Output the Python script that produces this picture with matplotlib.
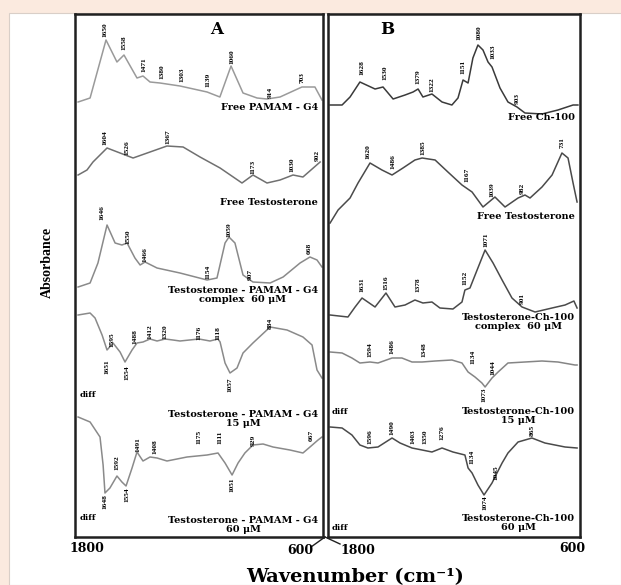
import numpy as np
import matplotlib
matplotlib.use('Agg')
import matplotlib.pyplot as plt
from matplotlib.patches import Rectangle
from matplotlib.lines import Line2D

W, H = 621, 585

# ---- panel A : PAMAM-G4 ----
a1_wn = [1785, 1727, 1650, 1597, 1563, 1500, 1471, 1437, 1389, 1292, 1161, 1099,
         1045, 987, 919, 871, 808, 702, 639, 605]
a1_ab = [435, 439, 497, 475, 482, 459, 461, 455, 454, 451, 445, 440,
         471, 444, 439, 438, 440, 450, 450, 437]

a2_wn = [1785, 1742, 1713, 1645, 1582, 1519, 1437, 1355, 1277, 1195, 1098, 992,
         939, 871, 808, 745, 697, 614]
a2_ab = [362, 367, 375, 389, 384, 379, 385, 391, 390, 380, 369, 354,
         362, 354, 357, 362, 360, 375]

a3_wn = [1785, 1727, 1689, 1645, 1606, 1573, 1548, 1510, 1485, 1461, 1403, 1292,
         1161, 1113, 1074, 1055, 1026, 987, 939, 856, 793, 711, 663, 629, 605]
a3_ab = [250, 254, 274, 312, 294, 292, 294, 279, 272, 275, 269, 264,
         257, 259, 294, 300, 294, 262, 255, 254, 260, 274, 280, 277, 270]

a4_wn = [1785, 1727, 1703, 1669, 1645, 1616, 1582, 1558, 1524, 1500, 1471, 1437,
         1403, 1364, 1326, 1292, 1200, 1147, 1108, 1098, 1074, 1050, 1016, 987,
         939, 856, 774, 697, 653, 629, 605]
a4_ab = [222, 224, 219, 202, 187, 194, 185, 175, 187, 194, 195, 198,
         196, 198, 197, 196, 198, 196, 198, 195, 174, 164, 169, 184,
         194, 210, 207, 200, 192, 167, 159]

a5_wn = [1785, 1727, 1679, 1664, 1655, 1631, 1597, 1573, 1553, 1524, 1500, 1471,
         1437, 1403, 1355, 1258, 1161, 1108, 1074, 1040, 1011, 978, 939, 890,
         842, 760, 697, 663, 624, 605]
a5_ab = [120, 115, 100, 72, 44, 49, 61, 55, 51, 69, 85, 76,
         80, 79, 76, 80, 82, 84, 74, 62, 74, 84, 92, 93,
         90, 87, 84, 90, 97, 100]

# ---- panel B : Ch-100 ----
b1_wn = [1790, 1733, 1695, 1648, 1576, 1538, 1490, 1433, 1395, 1371, 1348, 1305,
         1257, 1210, 1181, 1157, 1133, 1110, 1086, 1062, 1038, 1019, 981, 943,
         900, 862, 781, 705, 633, 610]
b1_ab = [432, 432, 440, 455, 448, 450, 438, 442, 445, 448, 440, 443,
         435, 432, 439, 457, 454, 479, 492, 487, 475, 470, 449, 435,
         430, 424, 423, 427, 432, 432]

b2_wn = [1790, 1752, 1695, 1657, 1600, 1543, 1495, 1443, 1386, 1352, 1290, 1229,
         1162, 1114, 1062, 1005, 957, 895, 862, 838, 781, 733, 686, 657, 633, 614]
b2_ab = [314, 327, 339, 354, 374, 367, 362, 369, 377, 379, 377, 365,
         352, 345, 330, 340, 330, 339, 342, 339, 350, 362, 384, 379, 354, 335]

b3_wn = [1790, 1705, 1671, 1638, 1576, 1524, 1481, 1433, 1386, 1348, 1305, 1267,
         1205, 1162, 1148, 1124, 1090, 1052, 1014, 971, 924, 876, 814, 733,
         671, 629, 614]
b3_ab = [222, 220, 230, 239, 230, 244, 230, 232, 237, 234, 235, 229,
         228, 235, 247, 249, 267, 287, 274, 257, 239, 230, 225, 229,
         232, 236, 229]

b4_wn = [1790, 1733, 1686, 1648, 1600, 1562, 1495, 1448, 1400, 1352, 1290, 1210,
         1162, 1133, 1100, 1067, 1052, 1019, 990, 943, 862, 781, 705, 624, 614]
b4_ab = [185, 184, 179, 174, 175, 174, 179, 179, 175, 175, 176, 177,
         174, 165, 160, 154, 150, 159, 165, 174, 175, 176, 175, 172, 172]

b5_wn = [1790, 1733, 1686, 1648, 1610, 1562, 1495, 1457, 1400, 1352, 1305, 1257,
         1205, 1148, 1133, 1114, 1086, 1057, 1019, 1005, 971, 943, 895, 829,
         767, 671, 614]
b5_ab = [110, 109, 102, 92, 89, 90, 99, 94, 89, 87, 85, 89,
         85, 82, 69, 64, 52, 42, 54, 60, 74, 84, 95, 99,
         94, 90, 89]

# peak labels: (text, wavenumber where drawn, height)
a_peaks = [
    ('1650', 1655, 507), ('1558', 1563, 494), ('1471', 1466, 472), ('1380', 1379, 465),
    ('1303', 1282, 462), ('1139', 1156, 457), ('1060', 1040, 480), ('914', 856, 445),
    ('703', 702, 459),
    ('1604', 1655, 399), ('1526', 1548, 389), ('1367', 1350, 400), ('1173', 939, 370),
    ('1030', 750, 372), ('902', 629, 382),
    ('1646', 1669, 324), ('1550', 1543, 300), ('1466', 1461, 282), ('1154', 1156, 265),
    ('1059', 1055, 307), ('907', 953, 262), ('668', 668, 289),
    ('1651', 1645, 170), ('1595', 1621, 197), ('1554', 1548, 164), ('1488', 1510, 200),
    ('1412', 1437, 205), ('1320', 1364, 205), ('1176', 1200, 204), ('1118', 1108, 204),
    ('884', 856, 214), ('1057', 1050, 152),
    ('1648', 1655, 35), ('1592', 1597, 74), ('1554', 1548, 42), ('1491', 1495, 92),
    ('1408', 1413, 90), ('1175', 1200, 100), ('1111', 1098, 100), ('929', 939, 97),
    ('667', 658, 102), ('1051', 1040, 52),
]
b_peaks = [
    ('1628', 1638, 469), ('1530', 1529, 464), ('1379', 1371, 460), ('1322', 1305, 452),
    ('1151', 1157, 470), ('1080', 1081, 504), ('1033', 1014, 485), ('903', 900, 439),
    ('1620', 1610, 385), ('1486', 1490, 375), ('1385', 1348, 389), ('1167', 1138, 362),
    ('1039', 1019, 347), ('982', 876, 349), ('731', 686, 394),
    ('1631', 1638, 252), ('1516', 1524, 254), ('1378', 1371, 252), ('1152', 1148, 259),
    ('1071', 1048, 297), ('901', 876, 239),
    ('1594', 1600, 187), ('1486', 1495, 190), ('1348', 1343, 187), ('1134', 1110, 180),
    ('1044', 1014, 169), ('1073', 1057, 142),
    ('1596', 1600, 100), ('1490', 1495, 109), ('1403', 1395, 100), ('1350', 1338, 100),
    ('1276', 1257, 104), ('1134', 1114, 80), ('1045', 1000, 64), ('1074', 1052, 34),
    ('865', 829, 107),
]

# trace names: (text, top of text block)
a_names = [('Free PAMAM - G4', 434), ('Free Testosterone', 339),
           ('Testosterone - PAMAM - G4\ncomplex  60 \u03bcM', 251),
           ('Testosterone - PAMAM - G4\n15 \u03bcM', 127),
           ('Testosterone - PAMAM - G4\n60 \u03bcM', 21)]
b_names = [('Free Ch-100', 424), ('Free Testosterone', 325),
           ('Testosterone-Ch-100\ncomplex  60 \u03bcM', 224),
           ('Testosterone-Ch-100\n15 \u03bcM', 130),
           ('Testosterone-Ch-100\n60 \u03bcM', 23)]

serif = ['DejaVu Serif']
peakfont = dict(family=['Liberation Serif'], fontsize=5.3, fontweight='bold',
                rotation=90, ha='center', va='center')


def fx(px):
    return px / W


def fy(py):
    return 1 - py / H


fig = plt.figure(figsize=(W / 100, H / 100), dpi=100)
fig.patch.set_facecolor('#fbeadf')
fig.add_artist(Rectangle((fx(9), 0), 1 - fx(9), fy(13), transform=fig.transFigure,
                         facecolor='white', edgecolor='#d9cfc8', lw=0.8, zorder=0))

axA = fig.add_axes([fx(75), fy(537), fx(323) - fx(75), fy(14) - fy(537)])
axB = fig.add_axes([fx(328), fy(537), fx(580) - fx(328), fy(14) - fy(537)])

panels = [
    (axA, [(a1_wn, a1_ab, '#9a9a9a'), (a2_wn, a2_ab, '#707070'), (a3_wn, a3_ab, '#8a8a8a'),
           (a4_wn, a4_ab, '#8a8a8a'), (a5_wn, a5_ab, '#8a8a8a')], a_peaks, a_names, 'A', 1113),
    (axB, [(b1_wn, b1_ab, '#3a3a3a'), (b2_wn, b2_ab, '#4a4a4a'), (b3_wn, b3_ab, '#4a4a4a'),
           (b4_wn, b4_ab, '#858585'), (b5_wn, b5_ab, '#4a4a4a')], b_peaks, b_names, 'B', 1519),
]

for ax, traces, peaks, names, letter, letter_x in panels:
    ax.set_xlim(1800, 600)
    ax.set_ylim(0, 523)
    for wn, ab, col in traces:
        ax.plot(wn, ab, color=col, lw=1.1, solid_joinstyle='round')
    for txt, x, y in peaks:
        ax.text(x, y, txt, **peakfont)
    for txt, y in names:
        ax.text(0.98, y, txt, transform=ax.get_yaxis_transform(), ha='right', va='top',
                family=serif, fontsize=7, fontweight='bold', multialignment='center',
                linespacing=0.95)
    ax.text(letter_x, 507, letter, ha='center', va='center', family=serif,
            fontsize=12, fontweight='bold')
    ax.set_xticks([])
    ax.set_yticks([])
    for sp in ax.spines.values():
        sp.set_linewidth(1.8)
        sp.set_color('#202020')

# diff marks
for ax, ys in [(axA, [142, 19]), (axB, [125, 9])]:
    for y in ys:
        ax.text(0.02 if ax is axA else 0.015, y, 'diff', transform=ax.get_yaxis_transform(),
                family=serif, fontsize=6, fontweight='bold', ha='left', va='center')

# axis numbers
for txt, px, py in [('1800', 87, 549), ('600', 300, 550), ('1800', 358, 550), ('600', 572, 549)]:
    fig.text(fx(px), fy(py), txt, ha='center', va='center', family=serif,
             fontsize=9, fontweight='bold')

# axis break mark between the panels
fig.add_artist(Line2D([fx(325), fx(311)], [fy(537), fy(547)], color='#202020', lw=1.0))
fig.add_artist(Line2D([fx(325), fx(340)], [fy(537), fy(544)], color='#202020', lw=1.0))

fig.text(fx(355), fy(577), 'Wavenumber (cm\u207b\u00b9)', ha='center', va='center',
         family=serif, fontsize=14, fontweight='bold')
fig.text(fx(47), fy(262), 'Absorbance', ha='center', va='center', rotation=90,
         family=['Liberation Serif'], fontsize=10, fontweight='bold')

fig.savefig('out.png', dpi=100, facecolor=fig.get_facecolor())
